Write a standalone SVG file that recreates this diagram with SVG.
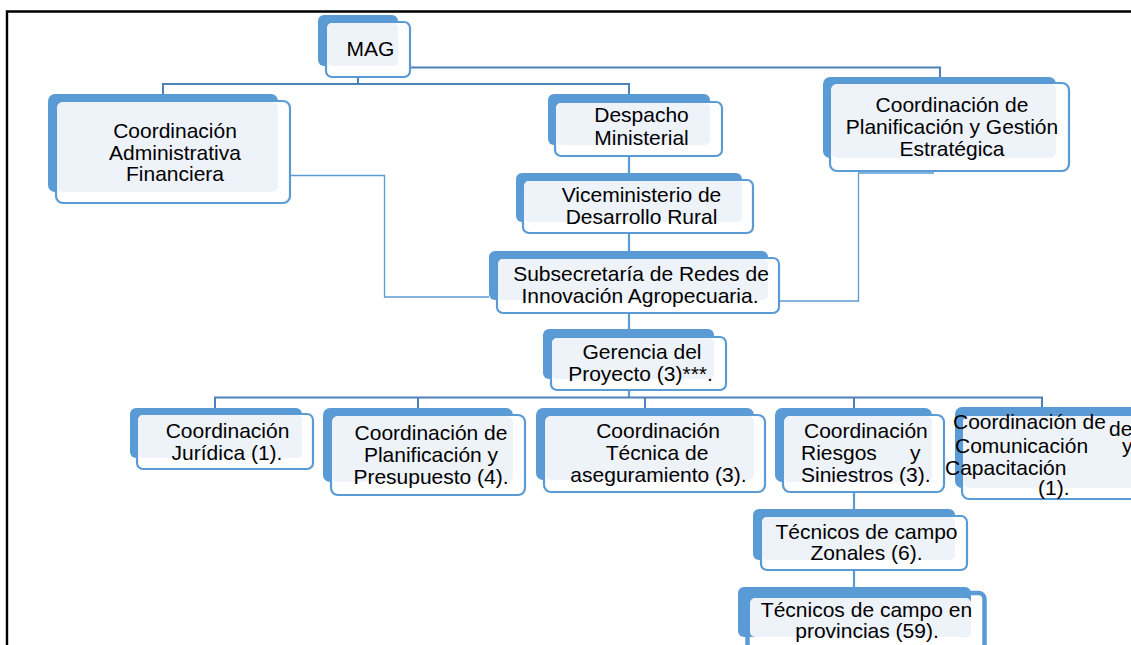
<svg xmlns="http://www.w3.org/2000/svg" width="1131" height="645" viewBox="0 0 1131 645">
<style>
.bk{fill:#5B9BD5}
.fr{fill:#FFFFFF;stroke:#5B9BD5;stroke-width:2.2}
.lt{fill:#EEF2F9}
.t{font-family:"Liberation Sans",Arial,sans-serif;font-size:21px;fill:#000}
.c{text-anchor:middle}
.cn{fill:none;stroke:#4E80BA;stroke-width:2}
.cv{fill:none;stroke:#5B9BD5;stroke-width:2.2}
.cs{fill:none;stroke:#5B9BD5;stroke-width:1.3}
</style>
<rect x="0" y="0" width="1131" height="645" fill="#FFFFFF"/>
<path d="M7,645 V11.5 H1131" fill="none" stroke="#000" stroke-width="2.4"/>
<g id="connectors">
<path class="cn" d="M410,67.5 H940 V77"/>
<path class="cn" d="M358,77 V84 M163,94 V84 H629 V94"/>
<path class="cv" d="M629,156 V173 M629,233 V251 M629,313 V329 M629,390 V397.5"/>
<path class="cn" d="M215,408 V397.5 H1042 V408 M418,397.5 V408 M645,397.5 V408 M854,397.5 V408"/>
<path class="cv" d="M854,492 V509 M854,570 V587"/>
<path class="cs" d="M290,175.5 H384.5 V297 H489"/>
<path class="cs" d="M779,301 H858.5 V173 H934"/>
</g>
<g id="n-mag">
<rect class="bk" x="318" y="15" width="80" height="51" rx="6"/>
<rect class="fr" x="326" y="22" width="84" height="55" rx="6"/>
<rect class="lt" x="327" y="23" width="71" height="43" rx="5"/>
<text class="t c" x="370.5" y="56">MAG</text>
</g>
<g id="n-admin">
<rect class="bk" x="48" y="94" width="230" height="98" rx="7"/>
<rect class="fr" x="56" y="101" width="234" height="102" rx="7"/>
<rect class="lt" x="57" y="102" width="221" height="90" rx="6"/>
<text class="t c" x="175" y="138">Coordinación</text>
<text class="t c" x="175" y="159.5">Administrativa</text>
<text class="t c" x="175" y="181">Financiera</text>
</g>
<g id="n-despacho">
<rect class="bk" x="548" y="94" width="162" height="51" rx="6"/>
<rect class="fr" x="555" y="102" width="167" height="54" rx="6"/>
<rect class="lt" x="556" y="103" width="154" height="42" rx="5"/>
<text class="t c" x="641.5" y="122">Despacho</text>
<text class="t c" x="641.5" y="145">Ministerial</text>
</g>
<g id="n-gestion">
<rect class="bk" x="823" y="77" width="233" height="81" rx="7"/>
<rect class="fr" x="830" y="83" width="239" height="88" rx="7"/>
<rect class="lt" x="831" y="84" width="225" height="74" rx="6"/>
<text class="t c" x="952" y="112">Coordinación de</text>
<text class="t c" x="952" y="134">Planificación y Gestión</text>
<text class="t c" x="952" y="156">Estratégica</text>
</g>
<g id="n-vicem">
<rect class="bk" x="516" y="173" width="226" height="49" rx="6"/>
<rect class="fr" x="523" y="180" width="230" height="53" rx="6"/>
<rect class="lt" x="524" y="181" width="218" height="41" rx="5"/>
<text class="t c" x="641.5" y="202">Viceministerio de</text>
<text class="t c" x="641.5" y="224">Desarrollo Rural</text>
</g>
<g id="n-subsec">
<rect class="bk" x="489" y="251" width="279" height="49" rx="6"/>
<rect class="fr" x="497" y="258" width="282" height="55" rx="6"/>
<rect class="lt" x="498" y="259" width="270" height="41" rx="5"/>
<text class="t c" x="641" y="281">Subsecretaría de Redes de</text>
<text class="t c" x="640" y="303">Innovación Agropecuaria.</text>
</g>
<g id="n-gerencia">
<rect class="bk" x="543" y="329" width="171" height="50" rx="6"/>
<rect class="fr" x="551" y="337" width="175" height="53" rx="6"/>
<rect class="lt" x="552" y="338" width="162" height="41" rx="5"/>
<text class="t c" x="642" y="359">Gerencia del</text>
<text class="t c" x="640.5" y="381">Proyecto (3)***.</text>
</g>
<g id="n-juridica">
<rect class="bk" x="130" y="408" width="172" height="50" rx="6"/>
<rect class="fr" x="137" y="414" width="176" height="55" rx="6"/>
<rect class="lt" x="138" y="415" width="164" height="43" rx="5"/>
<text class="t c" x="227.5" y="438">Coordinación</text>
<text class="t c" x="227" y="460">Jurídica (1).</text>
</g>
<g id="n-presupuesto">
<rect class="bk" x="323" y="408" width="190" height="74" rx="7"/>
<rect class="fr" x="331" y="415" width="194" height="80" rx="7"/>
<rect class="lt" x="332" y="416" width="181" height="66" rx="6"/>
<text class="t c" x="431" y="439.5">Coordinación de</text>
<text class="t c" x="431" y="461.5">Planificación y</text>
<text class="t c" x="431" y="483.5">Presupuesto (4).</text>
</g>
<g id="n-tecnica">
<rect class="bk" x="536" y="408" width="218" height="72" rx="7"/>
<rect class="fr" x="544" y="415" width="221" height="77" rx="7"/>
<rect class="lt" x="545" y="416" width="209" height="64" rx="6"/>
<text class="t c" x="658" y="438">Coordinación</text>
<text class="t c" x="657" y="460">Técnica de</text>
<text class="t c" x="658.5" y="482">aseguramiento (3).</text>
</g>
<g id="n-riesgos">
<rect class="bk" x="775" y="408" width="157" height="74" rx="7"/>
<rect class="fr" x="783" y="415" width="161" height="77" rx="7"/>
<rect class="lt" x="784" y="416" width="148" height="66" rx="6"/>
<text class="t" x="804" y="438">Coordinación</text>
<text class="t" y="460"><tspan x="801">Riesgos</tspan><tspan x="910">y</tspan></text>
<text class="t" x="801" y="482">Siniestros (3).</text>
</g>
<g id="n-comunicacion">
<rect class="bk" x="955" y="407" width="200" height="81" rx="7"/>
<rect class="fr" x="962" y="415" width="200" height="84" rx="7"/>
<rect class="lt" x="963" y="416" width="192" height="72" rx="6"/>
<text class="t" x="953" y="429">Coordinación de</text>
<text class="t" x="1109" y="436">de</text>
<text class="t" y="453"><tspan x="955">Comunicación</tspan><tspan x="1122">y</tspan></text>
<text class="t" x="945" y="475">Capacitación</text>
<text class="t" x="1038" y="495">(1).</text>
</g>
<g id="n-zonales">
<rect class="bk" x="753" y="509" width="202" height="51" rx="6"/>
<rect class="fr" x="761" y="516" width="206" height="54" rx="6"/>
<rect class="lt" x="762" y="517" width="193" height="43" rx="5"/>
<text class="t c" x="866.5" y="539">Técnicos de campo</text>
<text class="t c" x="866.5" y="560">Zonales (6).</text>
</g>
<g id="n-provincias">
<rect class="fr" x="747.5" y="593" width="237" height="90" rx="6" style="stroke-width:4.5"/>
<rect class="bk" x="738" y="587" width="233" height="50" rx="6"/>
<rect class="lt" x="750" y="598" width="221" height="39" rx="5"/>
<text class="t c" x="866.5" y="617">Técnicos de campo en</text>
<text class="t c" x="867" y="638">provincias (59).</text>
</g>
</svg>
